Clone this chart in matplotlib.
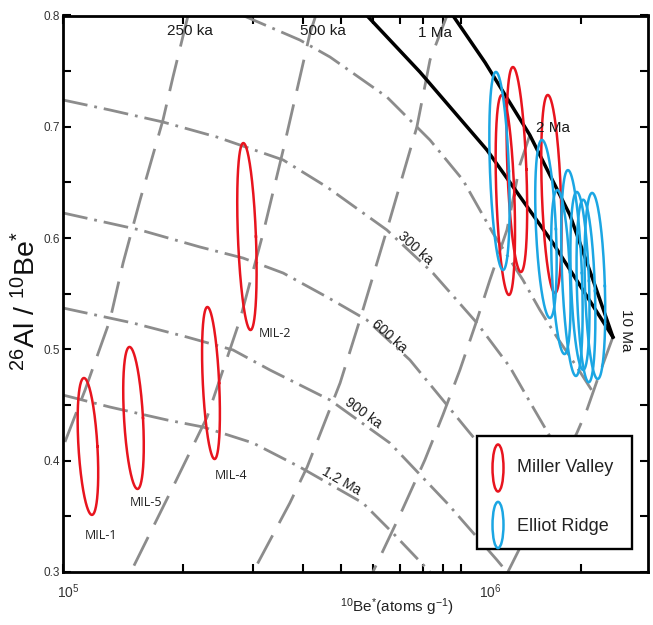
import numpy as np
import matplotlib
matplotlib.use('Agg')
import matplotlib.pyplot as plt
from matplotlib.patches import Rectangle, Ellipse
from matplotlib.ticker import LogLocator, NullFormatter, FixedLocator
import matplotlib.transforms as mtransforms

plt.rcParams['font.family'] = ['Liberation Sans', 'DejaVu Sans']
plt.rcParams['mathtext.fontset'] = 'custom'
plt.rcParams['mathtext.rm'] = 'Liberation Sans'
plt.rcParams['mathtext.it'] = 'Liberation Sans:italic'
plt.rcParams['mathtext.bf'] = 'Liberation Sans:bold'
plt.rcParams['lines.scale_dashes'] = False
NARROW = ['Liberation Sans Narrow', 'Liberation Sans', 'DejaVu Sans']

# ---------------- data ----------------
# Miller Valley samples (10Be* atoms/g, 26Al/10Be* ratio, errors)
miller_be = [1.155e5, 1.503e5, 2.352e5, 2.895e5, 1.289e6, 1.378e6, 1.682e6]
miller_ratio = [0.4128, 0.4384, 0.4698, 0.6014, 0.6387, 0.6616, 0.6396]
miller_logbe_err = [0.0238, 0.0238, 0.0205, 0.0226, 0.0226, 0.0238, 0.0238]
miller_ratio_err = [0.0615, 0.0638, 0.0683, 0.084, 0.0898, 0.0921, 0.089]
miller_tilt = [-0.010, -0.010, -0.009, -0.009, -0.009, -0.010, -0.009]
mil_names = ['MIL-1', 'MIL-5', 'MIL-4', 'MIL-2']
mil_label_be = [1.2457e5, 1.616e5, 2.641e5, 3.404e5]
mil_label_ratio = [0.3332, 0.362, 0.3871, 0.5147]

# Elliot Ridge samples
elliot_be = [1.246e6, 1.630e6, 1.777e6, 1.894e6, 1.984e6, 2.054e6, 2.163e6]
elliot_ratio = [0.6603, 0.6082, 0.5695, 0.5686, 0.5615, 0.5525, 0.5570]
elliot_logbe_err = [0.0238, 0.025, 0.0226, 0.025, 0.0226, 0.0226, 0.025]
elliot_ratio_err = [0.089, 0.080, 0.0737, 0.0925, 0.080, 0.082, 0.0836]
elliot_tilt = [-0.009, -0.010, -0.009, -0.010, -0.008, -0.007, -0.007]

# black curves: constant exposure and steady erosion
expo_be = [9.52e5, 1.147e6, 1.485e6, 1.872e6, 2.14e6, 2.40e6]
expo_ratio = [0.80, 0.7577, 0.6926, 0.6208, 0.5624, 0.5111]
eros_be = [5.79e5, 7.87e5, 1.159e6, 1.697e6, 2.40e6]
eros_ratio = [0.80, 0.7492, 0.6792, 0.5956, 0.5111]

# dashed lines (pre-burial exposure time)
dash_be = [
    [2.06e5, 1.888e5, 1.782e5, 1.561e5, 1.415e5, 1.312e5, 1.136e5, 1.0e5],
    [4.31e5, 4.17e5, 3.57e5, 3.18e5, 2.78e5, 2.30e5, 1.888e5, 1.48e5],
    [9.20e5, 8.34e5, 7.73e5, 6.50e5, 5.56e5, 4.96e5, 4.10e5, 3.71e5, 3.00e5],
    [1.485e6, 1.402e6, 1.301e6, 1.179e6, 1.094e6, 9.913e5, 8.985e5, 8.095e5, 7.011e5, 5.996e5],
    [2.40e6, 2.225e6, 2.065e6, 1.949e6, 1.707e6, 1.520e6, 1.308e6],
]
dash_ratio = [
    [0.80, 0.7447, 0.7061, 0.6342, 0.5776, 0.5264, 0.4635, 0.4123],
    [0.80, 0.7843, 0.6792, 0.6046, 0.5264, 0.4393, 0.3764, 0.30],
    [0.80, 0.76, 0.6998, 0.6073, 0.5264, 0.4698, 0.3943, 0.362, 0.30],
    [0.6926, 0.6657, 0.6073, 0.5624, 0.5264, 0.4815, 0.4411, 0.4006, 0.3512, 0.30],
    [0.5111, 0.4788, 0.4456, 0.4249, 0.3827, 0.3467, 0.30],
]
expo_labels = ['250 ka', '500 ka', '1 Ma', '2 Ma', '10 Ma']
expo_label_be = [2.083e5, 4.49e5, 8.58e5, 1.697e6, 2.587e6]
expo_label_ratio = [0.786, 0.786, 0.784, 0.6989, 0.5174]
expo_label_rot = [0, 0, 0, 0, -90]

# dash-dot lines (burial isochrons)
iso_be = [
    [2.83e5, 3.93e5, 4.68e5, 6.50e5, 8.34e5, 1.0087e6, 1.1995e6, 1.4268e6, 1.574e6, 1.736e6, 1.949e6, 2.138e6],
    [1.0e5, 1.312e5, 1.782e5, 2.434e5, 3.57e5, 4.597e5, 6.50e5, 8.483e5, 1.094e6, 1.3233e6, 1.5114e6, 1.8187e6],
    [1.0e5, 1.561e5, 2.207e5, 2.83e5, 3.57e5, 4.597e5, 5.79e5, 7.426e5, 8.985e5, 1.050e6, 1.529e6],
    [1.0e5, 1.498e5, 2.047e5, 2.671e5, 3.307e5, 4.68e5, 6.615e5, 9.20e5, 1.228e6, 1.301e6],
    [1.0e5, 1.312e5, 1.824e5, 2.245e5, 3.0e5, 3.93e5, 5.66e5, 6.73e5, 8.34e5],
]
iso_ratio = [
    [0.80, 0.778, 0.7627, 0.7268, 0.6881, 0.6522, 0.6046, 0.5624, 0.5354, 0.5111, 0.4842, 0.4617],
    [0.7241, 0.7151, 0.7043, 0.6908, 0.6702, 0.6459, 0.6073, 0.5686, 0.5237, 0.4842, 0.4482, 0.3988],
    [0.6226, 0.6073, 0.592, 0.5821, 0.5686, 0.5471, 0.5264, 0.4905, 0.4545, 0.4249, 0.3557],
    [0.5372, 0.5237, 0.5111, 0.4995, 0.4815, 0.4545, 0.4159, 0.362, 0.3108, 0.30],
    [0.459, 0.4482, 0.4366, 0.4303, 0.4159, 0.3943, 0.362, 0.335, 0.30],
]
iso_labels = ['300 ka', '600 ka', '900 ka', '1.2 Ma']
iso_label_be = [7.643e5, 6.577e5, 5.66e5, 4.985e5]
iso_label_ratio = [0.5911, 0.512, 0.4429, 0.3818]
iso_label_rot = [-42, -42, -36, -30]

yticks = [0.3, 0.4, 0.5, 0.6, 0.7, 0.8]
ytick_labels = ['0.3', '0.4', '0.5', '0.6', '0.7', '0.8']
xticks = [1e5, 1e6]
xtick_labels = [r'$10^{5}$', r'$10^{6}$']

RED = '#e8141e'
BLUE = '#1ba6e3'
GREY = '#8c8c8c'

# ---------------- figure ----------------
fig = plt.figure(figsize=(6.53, 6.25), dpi=100)
ax = fig.add_axes([63 / 653, 1 - 572 / 625, 585 / 653, 556.5 / 625])
ax.set_xscale('log')
ax.set_xlim(1e5, 2.94e6)
ax.set_ylim(0.3, 0.8)

for bx, ry in zip(dash_be, dash_ratio):
    ln, = ax.plot(bx, ry, color=GREY, lw=2.0, zorder=2, solid_capstyle='butt')
    ln.set_dashes([23, 10])
for bx, ry in zip(iso_be, iso_ratio):
    ln, = ax.plot(bx, ry, color=GREY, lw=2.0, zorder=2)
    ln.set_dashes([18, 5, 2, 5])

ax.plot(eros_be, eros_ratio, color='black', lw=2.5, zorder=3)
ax.plot(expo_be, expo_ratio, color='black', lw=2.5, zorder=3)

t = np.linspace(0, 2 * np.pi, 240)


def draw_ell(be, r, lbe, rr, tilt, color):
    lx = np.log10(be) + lbe * np.cos(t) + tilt * np.sin(t)
    yy = r + rr * np.sin(t)
    ax.plot(10 ** lx, yy, color=color, lw=1.8, zorder=4)


for i in range(len(miller_be)):
    draw_ell(miller_be[i], miller_ratio[i], miller_logbe_err[i], miller_ratio_err[i], miller_tilt[i], RED)
for i in range(len(elliot_be)):
    draw_ell(elliot_be[i], elliot_ratio[i], elliot_logbe_err[i], elliot_ratio_err[i], elliot_tilt[i], BLUE)

for name, bx, ry in zip(mil_names, mil_label_be, mil_label_ratio):
    ax.text(bx, ry, name, fontsize=9, family=['Open Sans', 'DejaVu Sans'], color='#222222',
            ha='center', va='center', zorder=5)

for lab, bx, ry, rot in zip(expo_labels, expo_label_be, expo_label_ratio, expo_label_rot):
    ax.text(bx, ry, lab, fontsize=11, color='#1a1a1a', ha='center', va='center', rotation=rot, zorder=5)

for lab, bx, ry, rot in zip(iso_labels, iso_label_be, iso_label_ratio, iso_label_rot):
    ax.text(bx, ry, lab, fontsize=10, color='#1a1a1a', ha='center', va='center', rotation=rot,
            rotation_mode='anchor', zorder=5)

# legend (manual box)
ax.add_patch(Rectangle((0.7077, 0.0413), 0.2649, 0.2031, transform=ax.transAxes,
                       facecolor='white', edgecolor='black', lw=1.7, zorder=10))
ax.add_patch(Ellipse((0.7436, 0.1869), 0.0188, 0.0845, transform=ax.transAxes,
                     fill=False, edgecolor=RED, lw=1.8, zorder=11))
ax.add_patch(Ellipse((0.7436, 0.0845), 0.0188, 0.0830, transform=ax.transAxes,
                     fill=False, edgecolor=BLUE, lw=1.8, zorder=11))
ax.text(0.776, 0.1869, 'Miller Valley', transform=ax.transAxes, fontsize=13,
        color='#222222', ha='left', va='center', zorder=12)
ax.text(0.776, 0.0809, 'Elliot Ridge', transform=ax.transAxes, fontsize=13,
        color='#222222', ha='left', va='center', zorder=12)

# axes styling
for sp in ax.spines.values():
    sp.set_linewidth(2.0)
    sp.set_zorder(20)
ax.set_xticks(xticks)
ax.set_xticklabels(['', ''])
ax.xaxis.set_minor_locator(LogLocator(base=10, subs=np.arange(2, 10)))
ax.xaxis.set_minor_formatter(NullFormatter())
ax.set_yticks(yticks)
ax.set_yticklabels(ytick_labels, family=NARROW, fontsize=8.5, color='#333333')
ax.yaxis.set_minor_locator(FixedLocator([0.35, 0.45, 0.55, 0.65, 0.75]))
ax.tick_params(which='both', direction='in', top=True, right=True, width=1.5, length=6, pad=2)

blend = mtransforms.blended_transform_factory(ax.transData, ax.transAxes)
for val, lab, dx in zip(xticks, xtick_labels, [5, 29]):
    tr = blend + mtransforms.ScaledTranslation(dx / 100, -10 / 100, fig.dpi_scale_trans)
    ax.text(val, 0, lab, transform=tr, fontsize=10, family=NARROW, color='#333333',
            ha='center', va='top')

ax.set_xlabel(r'$^{10}$Be$^{*}$(atoms g$^{-1}$)', fontsize=11, family=NARROW, color='#222222')
ax.xaxis.set_label_coords(0.571, -0.043)
ax.set_ylabel(r'$^{26}$Al / $^{10}$Be$^{*}$', fontsize=20.5, color='#111111')
ax.yaxis.set_label_coords(-0.0376, 0.487)

fig.savefig('out.png', dpi=100)
